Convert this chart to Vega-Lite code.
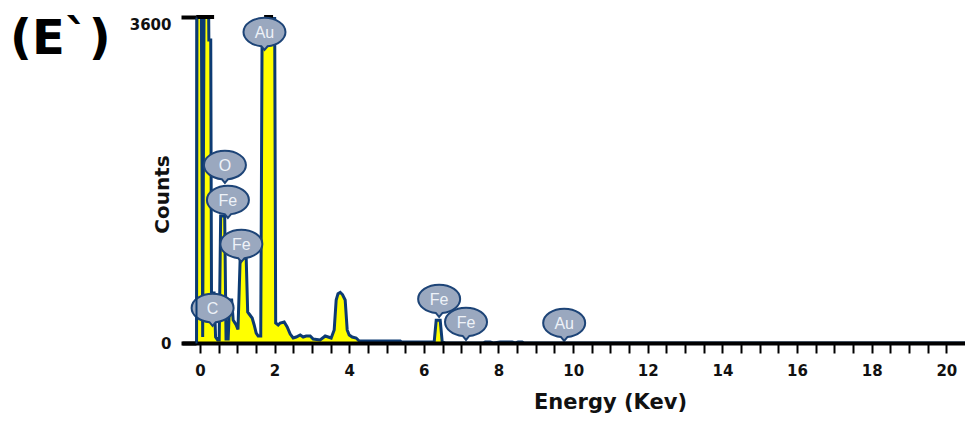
{
  "$schema": "https://vega.github.io/schema/vega-lite/v6.json",
  "width": 783,
  "height": 326,
  "autosize": {"type": "none"},
  "padding": {"left": 182, "top": 17, "right": 0, "bottom": 78},
  "background": "white",
  "config": {"view": {"stroke": null}},
  "title": {
    "text": "(E`)",
    "anchor": "start",
    "frame": "group",
    "orient": "top",
    "offset": 0,
    "dx": -172,
    "dy": 88,
    "baseline": "alphabetic",
    "font": "DejaVu Sans",
    "fontSize": 48,
    "fontWeight": "bold",
    "color": "#000000"
  },
  "datasets": {
    "spec": [
      {"e": -0.09, "c": 0}, {"e": -0.08, "c": 3600}, {"e": 0.04, "c": 3600}, {"e": 0.074, "c": 66},
      {"e": 0.11, "c": 3600}, {"e": 0.235, "c": 3600}, {"e": 0.24, "c": 3345}, {"e": 0.29, "c": 3345},
      {"e": 0.31, "c": 552}, {"e": 0.38, "c": 552}, {"e": 0.42, "c": 66}, {"e": 0.476, "c": 33},
      {"e": 0.516, "c": 33}, {"e": 0.556, "c": 1402}, {"e": 0.664, "c": 1402}, {"e": 0.7, "c": 44},
      {"e": 0.757, "c": 44}, {"e": 0.798, "c": 475}, {"e": 0.851, "c": 475}, {"e": 0.891, "c": 254},
      {"e": 0.972, "c": 199}, {"e": 1.02, "c": 150}, {"e": 1.079, "c": 938}, {"e": 1.24, "c": 938},
      {"e": 1.28, "c": 342}, {"e": 1.32, "c": 320}, {"e": 1.4, "c": 276}, {"e": 1.454, "c": 199},
      {"e": 1.508, "c": 110}, {"e": 1.561, "c": 77}, {"e": 1.63, "c": 77}, {"e": 1.668, "c": 3600},
      {"e": 2.003, "c": 3600}, {"e": 2.03, "c": 221}, {"e": 2.097, "c": 199}, {"e": 2.151, "c": 221},
      {"e": 2.258, "c": 232}, {"e": 2.338, "c": 177}, {"e": 2.419, "c": 99}, {"e": 2.499, "c": 55},
      {"e": 2.58, "c": 66}, {"e": 2.687, "c": 88}, {"e": 2.767, "c": 66}, {"e": 2.847, "c": 77},
      {"e": 2.955, "c": 77}, {"e": 3.035, "c": 44}, {"e": 3.223, "c": 33}, {"e": 3.357, "c": 77},
      {"e": 3.437, "c": 66}, {"e": 3.517, "c": 55}, {"e": 3.598, "c": 144}, {"e": 3.651, "c": 475},
      {"e": 3.7, "c": 545}, {"e": 3.76, "c": 560}, {"e": 3.82, "c": 535}, {"e": 3.892, "c": 475}, {"e": 3.946, "c": 144},
      {"e": 4.0, "c": 88}, {"e": 4.08, "c": 66}, {"e": 4.187, "c": 55}, {"e": 4.268, "c": 22},
      {"e": 5.367, "c": 22}, {"e": 5.4, "c": 11}, {"e": 6.277, "c": 11}, {"e": 6.331, "c": 250},
      {"e": 6.438, "c": 250}, {"e": 6.492, "c": 11}, {"e": 6.572, "c": 0}, {"e": 7.59, "c": 0},
      {"e": 7.644, "c": 11}, {"e": 7.778, "c": 11}, {"e": 7.858, "c": 0}, {"e": 8.046, "c": 11},
      {"e": 8.367, "c": 11}, {"e": 8.448, "c": 0}, {"e": 8.528, "c": 11}, {"e": 8.635, "c": 11},
      {"e": 8.689, "c": 0}, {"e": 20.5, "c": 0}
    ],
    "clip": [
      {"e": -0.1, "e2": 0.38, "c": 3600},
      {"e": 1.72, "e2": 1.96, "c": 3600}
    ],
    "labels": [
      {"e": 1.73, "c": 3433, "label": "Au"},
      {"e": 0.67, "c": 1965, "label": "O"},
      {"e": 0.75, "c": 1579, "label": "Fe"},
      {"e": 1.11, "c": 1093, "label": "Fe"},
      {"e": 0.34, "c": 386, "label": "C"},
      {"e": 6.41, "c": 486, "label": "Fe"},
      {"e": 7.13, "c": 232, "label": "Fe"},
      {"e": 9.76, "c": 221, "label": "Au"}
    ]
  },
  "encoding": {
    "x": {
      "field": "e",
      "type": "quantitative",
      "scale": {"domain": [-0.48, 20.5], "nice": false, "zero": false},
      "axis": {
        "values": [0, 0.5, 1, 1.5, 2, 2.5, 3, 3.5, 4, 4.5, 5, 5.5, 6, 6.5, 7, 7.5, 8, 8.5, 9, 9.5, 10, 10.5, 11, 11.5, 12, 12.5, 13, 13.5, 14, 14.5, 15, 15.5, 16, 16.5, 17, 17.5, 18, 18.5, 19, 19.5, 20],
        "format": "~g",
        "labelExpr": "datum.value % 2 == 0 ? datum.label : ''",
        "labelFont": "DejaVu Sans",
        "labelFontSize": 15,
        "labelFontWeight": "bold",
        "labelColor": "#111111",
        "labelPadding": 10,
        "labelOverlap": false,
        "labelFlush": false,
        "tickSize": 10,
        "tickWidth": 2,
        "tickColor": "#000000",
        "domainColor": "#000000",
        "domainWidth": 4,
        "grid": false,
        "zindex": 1,
        "title": "Energy (Kev)",
        "titleFont": "DejaVu Sans",
        "titleFontSize": 21,
        "titleFontWeight": "bold",
        "titleColor": "#111111",
        "titleX": 428,
        "titleY": 65,
        "titleAlign": "center",
        "titleBaseline": "alphabetic"
      }
    },
    "y": {
      "field": "c",
      "type": "quantitative",
      "scale": {"domain": [0, 3600], "nice": false},
      "axis": {
        "values": [0, 3600],
        "format": "d",
        "offset": -14,
        "labelFont": "DejaVu Sans",
        "labelFontSize": 15,
        "labelFontWeight": "bold",
        "labelColor": "#111111",
        "labelPadding": 10,
        "labelFlush": false,
        "labelBaseline": {"condition": {"test": "datum.value == 3600", "value": "top"}, "value": "middle"},
        "tickSize": 15,
        "tickWidth": 4,
        "tickColor": "#000000",
        "domainColor": "#0d3b73",
        "domainWidth": 2,
        "grid": false,
        "zindex": 1,
        "title": "Counts",
        "titleFont": "DejaVu Sans",
        "titleFontSize": 20,
        "titleFontWeight": "bold",
        "titleColor": "#111111",
        "titleX": -34,
        "titleY": 177,
        "titleAlign": "center",
        "titleBaseline": "middle"
      }
    }
  },
  "layer": [
    {
      "data": {"name": "spec"},
      "mark": {"type": "area", "color": "#ffff00", "clip": true, "interpolate": "linear"}
    },
    {
      "data": {"name": "spec"},
      "mark": {"type": "line", "color": "#0d3b73", "strokeWidth": 3, "clip": true, "strokeJoin": "miter", "interpolate": "linear"}
    },
    {
      "data": {"name": "clip"},
      "mark": {"type": "rule", "color": "#000000", "strokeWidth": 4},
      "encoding": {"x2": {"field": "e2"}}
    },
    {
      "data": {"name": "labels"},
      "mark": {
        "type": "point",
        "shape": "M -1 0 A 1 0.68 0 0 1 1 0 A 1 0.68 0 0 1 0.15 0.672 L 0 0.85 L -0.15 0.672 A 1 0.68 0 0 1 -1 0 Z",
        "size": 1764,
        "filled": true,
        "fill": "#9aa8bf",
        "stroke": "#1d4477",
        "strokeWidth": 2,
        "opacity": 1,
        "fillOpacity": 1
      }
    },
    {
      "data": {"name": "labels"},
      "mark": {"type": "text", "font": "Liberation Sans", "fontSize": 16, "color": "#eef2f8", "baseline": "middle", "align": "center", "dy": 1},
      "encoding": {"text": {"field": "label"}}
    }
  ]
}
